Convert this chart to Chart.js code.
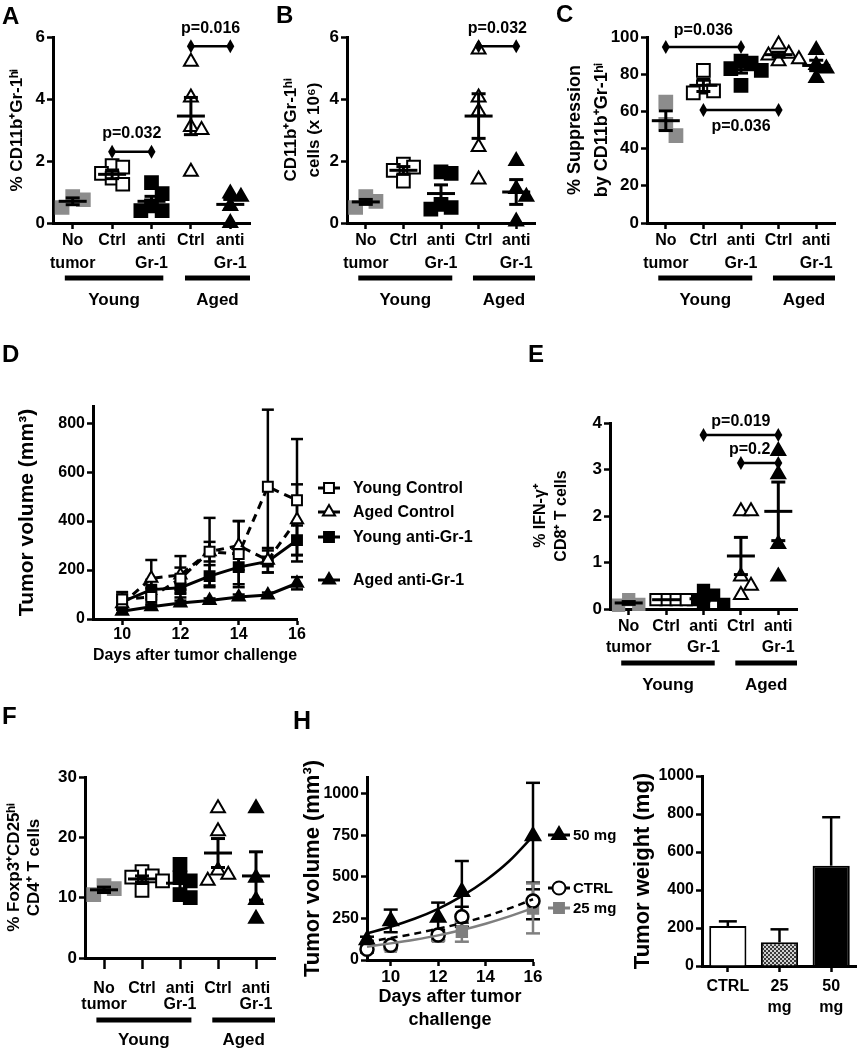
<!DOCTYPE html>
<html lang="en">
<head>
<meta charset="UTF-8">
<title>Gr-1 depletion in young and aged tumor-bearing mice</title>
<script src="https://cdn.jsdelivr.net/npm/chart.js@4.4.1/dist/chart.umd.min.js"></script>
<style>
  body { margin: 0; background: #fff; }
  #fig { position: relative; width: 857px; height: 1050px; overflow: hidden;
         font-family: "Liberation Sans", Arial, sans-serif; color: #000; }
  .box { position: absolute; }
  .tag { position: absolute; font-size: 24px; line-height: 24px; font-weight: bold; }
</style>
</head>
<body>
<div id="fig">
  <div class="box" style="left:0;top:0;width:280px;height:320px"><canvas id="chartA"></canvas></div>
  <div class="box" style="left:280px;top:0;width:280px;height:320px"><canvas id="chartB"></canvas></div>
  <div class="box" style="left:560px;top:0;width:297px;height:320px"><canvas id="chartC"></canvas></div>
  <div class="box" style="left:0;top:330px;width:520px;height:340px"><canvas id="chartD"></canvas></div>
  <div class="box" style="left:520px;top:330px;width:337px;height:370px"><canvas id="chartE"></canvas></div>
  <div class="box" style="left:0;top:700px;width:290px;height:350px"><canvas id="chartF"></canvas></div>
  <div class="box" style="left:290px;top:700px;width:340px;height:350px"><canvas id="chartH"></canvas></div>
  <div class="box" style="left:630px;top:700px;width:227px;height:350px"><canvas id="chartW"></canvas></div>

  <div class="tag" style="left:2px;top:4px">A</div>
  <div class="tag" style="left:276px;top:3px">B</div>
  <div class="tag" style="left:556px;top:2px">C</div>
  <div class="tag" style="left:2px;top:342px">D</div>
  <div class="tag" style="left:528px;top:342px">E</div>
  <div class="tag" style="left:2px;top:704px">F</div>
  <div class="tag" style="left:293px;top:708px;font-size:25px">H</div>
</div>

<script>
// ---------- data ----------
const catLabels = [['No', 'tumor'], 'Ctrl', ['anti', 'Gr-1'], 'Ctrl', ['anti', 'Gr-1']];
const ageNames = ['Young', 'Aged'];

// A: % CD11b+Gr-1hi
const aNoTumor = [0.85, 0.75, 0.5];
const aYoungCtrl = [1.85, 1.8, 1.6, 1.45, 1.25];
const aYoungAnti = [1.3, 0.95, 0.55, 0.4, 0.4];
const aAgedCtrl = [5.2, 4.05, 3.1, 3.0, 1.65];
const aAgedAnti = [0.95, 0.85, 0.55, 0.0];
const aMean = [0.7, 1.57, 0.7, 3.45, 0.6];
const aSem = [0.11, 0.14, 0.16, 0.6, 0.16];

// B: CD11b+Gr-1hi cells (x 10^6)
const bNoTumor = [0.85, 0.7, 0.5];
const bYoungCtrl = [1.9, 1.8, 1.7, 1.35];
const bYoungAnti = [1.65, 1.6, 0.6, 0.5, 0.45];
const bAgedCtrl = [5.6, 4.05, 3.6, 2.45, 1.4];
const bAgedAnti = [2.0, 1.1, 0.85, 0.05];
const bMean = [0.68, 1.7, 0.95, 3.45, 1.0];
const bSem = [0.08, 0.12, 0.28, 0.72, 0.4];

// C: % suppression
const cNoTumor = [65, 53, 47];
const cYoungCtrl = [82, 73, 71, 70];
const cYoungAnti = [87, 86, 83, 82, 74];
const cAgedCtrl = [96, 91, 90, 87, 88];
const cAgedAnti = [93, 85, 83, 78];
const cMean = [55, 74, 82.4, 90.5, 84.7];
const cSem = [5.3, 3.3, 1.8, 1.3, 2.8];

// E: % IFN-g+ CD8+ T cells
const eNoTumor = [0.2, 0.1, 0.08];
const eYoungCtrl = [0.2, 0.2, 0.2, 0.2];
const eYoungAnti = [0.4, 0.3, 0.2, 0.12, 0.1];
const eAgedCtrl = [2.1, 2.1, 0.7, 0.5, 0.3];
const eAgedAnti = [3.4, 2.9, 1.4, 0.7];
const eMean = [0.13, 0.2, 0.22, 1.14, 2.1];
const eSem = [0.03, 0, 0.05, 0.4, 0.63];

// F: % Foxp3+CD25hi CD4+ T cells
const fNoTumor = [12, 11.5, 10.5];
const fYoungCtrl = [14.3, 13.6, 13.4, 12.8, 11.2];
const fYoungAnti = [15.5, 13.3, 12.8, 10.5, 10];
const fAgedCtrl = [24.8, 21, 14.5, 13.8, 12.8];
const fAgedAnti = [24.8, 13.3, 9.6, 6.5];
const fMean = [11.3, 13.1, 12.4, 17.4, 13.6];
const fSem = [0.45, 0.5, 1.0, 2.4, 4.0];

// D: tumor volume over time
const dDays = [10, 11, 12, 13, 14, 15, 16];
const dDayTicks = [10, 12, 14, 16];
const dVolTicks = [0, 200, 400, 600, 800];
const dNames = ['Young Control', 'Aged Control', 'Young anti-Gr-1', 'Aged anti-Gr-1'];
const dYoungCtrl = [80, 90, 165, 275, 265, 540, 485];
const dYoungCtrlSem = [30, 35, 45, 138, 135, 315, 250];
const dAgedCtrl = [62, 166, 180, 275, 300, 240, 405];
const dAgedCtrlSem = [25, 75, 77, 40, 100, 50, 145];
const dYoungAnti = [70, 120, 128, 175, 212, 235, 322];
const dYoungAntiSem = [30, 40, 40, 45, 70, 45, 60];
const dAgedAnti = [32, 50, 65, 76, 90, 98, 146];
const dAgedAntiSem = [10, 10, 10, 8, 10, 10, 25];

// H: tumor volume with dose, fitted curves and tumor weight
const hDays = [9, 10, 12, 13, 16];
const hDayTicks = [10, 12, 14, 16];
const hVolTicks = [0, 250, 500, 750, 1000];
const hNames = ['50 mg', 'CTRL', '25 mg'];
const h50 = [120, 235, 255, 410, 745];
const h50Sem = [20, 68, 90, 185, 320];
const hCtrl = [65, 88, 150, 260, 355];
const hCtrlSem = [20, 20, 30, 60, 110];
const h25 = [75, 80, 140, 170, 310];
const h25Sem = [15, 20, 25, 60, 150];
const hFitDays = [9, 10, 11, 12, 13, 14, 15, 16];
const hFit50 = [160, 200, 248, 308, 384, 478, 595, 745];
const hFitCtrl = [110, 132, 158, 188, 222, 262, 310, 365];
const hFit25 = [80, 100, 122, 148, 180, 218, 262, 312];

const wLabels = ['CTRL', ['25', 'mg'], ['50', 'mg']];
const wTicks = [0, 200, 400, 600, 800, 1000];
const wMean = [210, 125, 528];
const wSem = [25, 68, 255];

// ---------- drawing helpers ----------
const FONT = '"Liberation Sans", Arial, sans-serif';
const GRAY = '#8c8c8c';
Chart.defaults.font.family = FONT;
Chart.defaults.color = '#000';

function bold(size, lh) {
  return { family: FONT, size: size, weight: 'bold', lineHeight: lh || 1.2 };
}

function line(ctx, x1, y1, x2, y2) {
  ctx.beginPath();
  ctx.moveTo(x1, y1);
  ctx.lineTo(x2, y2);
  ctx.stroke();
}

function marker(ctx, style, r, cx, cy) {
  ctx.beginPath();
  if (style === 'rect') {
    const s = r * Math.SQRT1_2;
    ctx.rect(cx - s, cy - s, 2 * s, 2 * s);
  } else if (style === 'triangle') {
    ctx.moveTo(cx, cy - r);
    ctx.lineTo(cx + r * 0.866, cy + r * 0.5);
    ctx.lineTo(cx - r * 0.866, cy + r * 0.5);
    ctx.closePath();
  } else {
    ctx.arc(cx, cy, r, 0, Math.PI * 2);
  }
  ctx.fill();
  ctx.stroke();
}

// spread points sideways when they would overlap (like a dot plot)
function swarm(vals, center, span) {
  const placed = [];
  const steps = [0, 0.27, -0.27, 0.54, -0.54, 0.81, -0.81];
  return vals.map(v => {
    let dx = 0;
    for (const s of steps) {
      const hit = placed.some(p => Math.abs(p.y - v) < span * 0.065 && Math.abs(p.x - s) < 0.25);
      if (!hit) { dx = s; break; }
    }
    placed.push({ x: dx, y: v });
    return { x: center + dx, y: v };
  });
}

const fixedTicks = list => s => { s.ticks = list.map(v => ({ value: v })); };

const groupMarks = [
  { pointStyle: 'rect', fill: GRAY, stroke: GRAY },
  { pointStyle: 'rect', fill: '#fff', stroke: '#000' },
  { pointStyle: 'rect', fill: '#000', stroke: '#000' },
  { pointStyle: 'triangle', fill: '#fff', stroke: '#000' },
  { pointStyle: 'triangle', fill: '#000', stroke: '#000' }
];
const ageSpans = [[0.8, 3.3], [3.85, 5.5]];

// mean +/- SEM, p-value brackets and Young / Aged bars
function dotMarks(c) {
  return {
    id: 'dotMarks',
    afterDatasetsDraw(chart) {
      const { ctx, chartArea } = chart;
      const x = chart.scales.x, y = chart.scales.y;
      ctx.save();
      ctx.strokeStyle = '#000';
      ctx.fillStyle = '#000';
      ctx.lineWidth = 3;
      c.means.forEach((m, i) => {
        const px = x.getPixelForValue(i + 1);
        const py = y.getPixelForValue(m);
        line(ctx, px - 14, py, px + 14, py);
        if (c.sems[i] > 0) {
          const hi = y.getPixelForValue(m + c.sems[i]);
          const lo = y.getPixelForValue(m - c.sems[i]);
          line(ctx, px, hi, px, lo);
          line(ctx, px - 7, hi, px + 7, hi);
          line(ctx, px - 7, lo, px + 7, lo);
        }
      });

      ctx.font = 'bold 16px ' + FONT;
      ctx.textAlign = 'center';
      ctx.textBaseline = 'middle';
      ctx.lineWidth = 2.5;
      (c.brackets || []).forEach(b => {
        const x1 = x.getPixelForValue(b.from);
        const x2 = x.getPixelForValue(b.to);
        const py = y.getPixelForValue(b.y);
        line(ctx, x1, py, x2, py);
        [x1, x2].forEach(px => {
          ctx.beginPath();
          ctx.moveTo(px, py - 7);
          ctx.lineTo(px + 4, py);
          ctx.lineTo(px, py + 7);
          ctx.lineTo(px - 4, py);
          ctx.closePath();
          ctx.fill();
        });
        ctx.fillText(b.text, (x1 + x2) / 2 + (b.shift || 0), py + (b.below ? c.textGap : -c.textGap));
      });

      ctx.font = 'bold 17px ' + FONT;
      ctx.lineWidth = 5;
      ageSpans.forEach((g, i) => {
        const x1 = x.getPixelForValue(g[0]);
        const x2 = x.getPixelForValue(g[1]);
        const by = chartArea.bottom + c.barGap;
        line(ctx, x1, by, x2, by);
        ctx.fillText(ageNames[i], (x1 + x2) / 2, by + c.nameGap);
      });
      ctx.restore();
    }
  };
}

function errorBars(sets, capHalf, upOnly, after) {
  const draw = chart => {
    const { ctx } = chart;
    const y = chart.scales.y;
    ctx.save();
    ctx.lineWidth = 2.5;
    ctx.setLineDash([]);
    sets.forEach(s => {
      const meta = chart.getDatasetMeta(s.ds);
      const ds = chart.data.datasets[s.ds];
      ctx.strokeStyle = s.color || '#000';
      meta.data.forEach((el, i) => {
        const raw = ds.data[i];
        const v = typeof raw === 'object' ? raw.y : raw;
        const hi = y.getPixelForValue(v + s.sem[i]);
        const lo = upOnly ? y.getPixelForValue(v) : y.getPixelForValue(Math.max(0, v - s.sem[i]));
        line(ctx, el.x, hi, el.x, lo);
        line(ctx, el.x - capHalf, hi, el.x + capHalf, hi);
        if (!upOnly) line(ctx, el.x - capHalf, lo, el.x + capHalf, lo);
      });
    });
    ctx.restore();
  };
  return after ? { id: 'errorBars', afterDatasetsDraw: draw } : { id: 'errorBars', beforeDatasetsDraw: draw };
}

function keyBox(items, k) {
  return {
    id: 'keyBox',
    afterDraw(chart) {
      const { ctx, chartArea } = chart;
      ctx.save();
      ctx.font = 'bold ' + k.size + 'px ' + FONT;
      ctx.textBaseline = 'middle';
      ctx.textAlign = 'left';
      items.forEach(it => {
        const ds = chart.data.datasets[it.ds];
        const x0 = chartArea.right + k.dx;
        ctx.strokeStyle = ds.pointBorderColor;
        ctx.lineWidth = 3;
        line(ctx, x0, it.y, x0 + k.len, it.y);
        ctx.fillStyle = ds.pointBackgroundColor;
        ctx.lineWidth = 2;
        marker(ctx, ds.pointStyle, ds.pointRadius, x0 + k.len / 2, it.y);
        ctx.fillStyle = '#000';
        ctx.fillText(ds.label, x0 + k.len + k.gap, it.y + 1);
      });
      ctx.restore();
    }
  };
}

const axisGrid = len => ({ drawOnChartArea: false, tickLength: len, tickWidth: 2.5, tickColor: '#000' });
const axisBorder = { color: '#000', width: 3 };
const plain = v => String(v);

function dotPlot(id, c) {
  const datasets = c.groups.map((vals, i) => {
    const m = groupMarks[i];
    return {
      data: swarm(vals, i + 1, c.yMax),
      pointStyle: m.pointStyle,
      pointRadius: m.pointStyle === 'rect' ? c.rectR : c.triR,
      backgroundColor: m.fill,
      borderColor: m.stroke,
      borderWidth: 2,
      clip: false
    };
  });
  return new Chart(document.getElementById(id), {
    type: 'scatter',
    data: { datasets },
    options: {
      responsive: true,
      maintainAspectRatio: false,
      animation: false,
      layout: { padding: { left: 0, top: c.top, right: c.right, bottom: 0 } },
      plugins: { legend: { display: false }, tooltip: { enabled: false } },
      scales: {
        x: {
          type: 'linear', min: 0.5, max: 5.5,
          afterBuildTicks: fixedTicks([1, 2, 3, 4, 5]),
          afterFit: s => { s.height = c.xH; },
          ticks: {
            autoSkip: false, maxRotation: 0, minRotation: 0, padding: c.tickPad,
            font: bold(16, c.labelLH), callback: v => catLabels[v - 1]
          },
          grid: axisGrid(c.tickLen),
          border: axisBorder
        },
        y: {
          min: 0, max: c.yMax,
          afterFit: s => { s.width = c.yW; },
          ticks: { stepSize: c.step, padding: 2, font: bold(17) },
          grid: axisGrid(6),
          border: axisBorder,
          title: {
            display: true, text: c.title,
            font: bold(c.titleSize, c.titleLH),
            padding: { top: c.titlePad, bottom: 0 }
          }
        }
      }
    },
    plugins: [dotMarks(c)]
  });
}

// ---------- A, B, C ----------
const topRow = { top: 37, xH: 97, tickLen: 6, tickPad: 0, labelLH: 1.44, barGap: 55, nameGap: 22, rectR: 9, triR: 8 };

dotPlot('chartA', Object.assign({}, topRow, {
  groups: [aNoTumor, aYoungCtrl, aYoungAnti, aAgedCtrl, aAgedAnti], means: aMean, sems: aSem,
  right: 30, yW: 53, yMax: 6, step: 2,
  title: '% CD11b⁺Gr-1ʰⁱ', titleSize: 17, titleLH: 1.2, titlePad: 7, textGap: 18,
  brackets: [
    { from: 2, to: 3, y: 2.3, text: 'p=0.032' },
    { from: 4, to: 5, y: 5.7, text: 'p=0.016' }
  ]
}));

dotPlot('chartB', Object.assign({}, topRow, {
  groups: [bNoTumor, bYoungCtrl, bYoungAnti, bAgedCtrl, bAgedAnti], means: bMean, sems: bSem,
  right: 25, yW: 67, yMax: 6, step: 2,
  title: ['CD11b⁺Gr-1ʰⁱ', 'cells (x 10⁶)'], titleSize: 17, titleLH: 1.35, titlePad: 0, textGap: 18,
  brackets: [{ from: 4, to: 5, y: 5.7, text: 'p=0.032' }]
}));

dotPlot('chartC', Object.assign({}, topRow, {
  groups: [cNoTumor, cYoungCtrl, cYoungAnti, cAgedCtrl, cAgedAnti], means: cMean, sems: cSem,
  right: 22, yW: 87, yMax: 100, step: 20,
  title: ['% Suppression', 'by CD11b⁺Gr-1ʰⁱ'], titleSize: 18, titleLH: 1.5, titlePad: 2, textGap: 16,
  brackets: [
    { from: 1, to: 3, y: 94.6, text: 'p=0.036' },
    { from: 2, to: 4, y: 60.7, text: 'p=0.036', below: true }
  ]
}));

// ---------- E ----------
dotPlot('chartE', {
  groups: [eNoTumor, eYoungCtrl, eYoungAnti, eAgedCtrl, eAgedAnti], means: eMean, sems: eSem,
  top: 93, right: 60, yW: 90, xH: 91, yMax: 4, step: 1,
  title: ['% IFN-γ⁺', 'CD8⁺ T cells'], titleSize: 16, titleLH: 1.3, titlePad: 10,
  tickLen: 6, tickPad: 1.5, labelLH: 1.3, barGap: 54, nameGap: 22, textGap: 13, rectR: 8, triR: 8,
  brackets: [
    { from: 3, to: 5, y: 3.74, text: 'p=0.019' },
    { from: 4, to: 5, y: 3.14, text: 'p=0.2', shift: -10 }
  ]
});

// ---------- F ----------
dotPlot('chartF', {
  groups: [fNoTumor, fYoungCtrl, fYoungAnti, fAgedCtrl, fAgedAnti], means: fMean, sems: fSem,
  top: 77, right: 15, yW: 85, xH: 92, yMax: 30, step: 10,
  title: ['% Foxp3⁺CD25ʰⁱ', 'CD4⁺ T cells'], titleSize: 17, titleLH: 1.2, titlePad: 4,
  tickLen: 11, tickPad: 12, labelLH: 1.0, barGap: 62, nameGap: 20, textGap: 16, rectR: 9, triR: 8,
  brackets: []
});

// ---------- D ----------
function pts(xs, ys) { return xs.map((d, i) => ({ x: d, y: ys[i] })); }

const dValues = [dYoungCtrl, dAgedCtrl, dYoungAnti, dAgedAnti];
const dSems = [dYoungCtrlSem, dAgedCtrlSem, dYoungAntiSem, dAgedAntiSem];
const dLook = [
  { dash: [8, 6], pointStyle: 'rect', fill: '#fff' },
  { dash: [8, 6], pointStyle: 'triangle', fill: '#fff' },
  { dash: [], pointStyle: 'rect', fill: '#000' },
  { dash: [], pointStyle: 'triangle', fill: '#000' }
];

new Chart(document.getElementById('chartD'), {
  type: 'line',
  data: {
    datasets: dValues.map((v, i) => ({
      label: dNames[i],
      data: pts(dDays, v),
      borderColor: '#000', borderWidth: 3, borderDash: dLook[i].dash,
      pointStyle: dLook[i].pointStyle, pointRadius: 7,
      pointBackgroundColor: dLook[i].fill, pointBorderColor: '#000', pointBorderWidth: 2,
      tension: 0, clip: false
    }))
  },
  options: {
    responsive: true, maintainAspectRatio: false, animation: false,
    layout: { padding: { left: 0, top: 76, right: 223, bottom: 0 } },
    plugins: { legend: { display: false }, tooltip: { enabled: false } },
    scales: {
      x: {
        type: 'linear', min: 9, max: 16,
        afterBuildTicks: fixedTicks(dDayTicks),
        afterFit: s => { s.height = 51; },
        ticks: { padding: 0, font: bold(16), maxRotation: 0, callback: plain },
        grid: axisGrid(6), border: axisBorder,
        title: { display: true, text: 'Days after tumor challenge', font: bold(16), padding: { top: 0, bottom: 5 } }
      },
      y: {
        min: 0, max: 870,
        afterBuildTicks: fixedTicks(dVolTicks),
        afterFit: s => { s.width = 93; },
        ticks: { padding: 2, font: bold(16), callback: plain },
        grid: axisGrid(6), border: axisBorder,
        title: { display: true, text: 'Tumor volume (mm³)', font: bold(21), padding: { top: 15, bottom: 0 } }
      }
    }
  },
  plugins: [
    errorBars(dSems.map((s, i) => ({ ds: i, sem: s })), 6, false, false),
    keyBox([{ ds: 0, y: 158 }, { ds: 1, y: 182 }, { ds: 2, y: 207 }, { ds: 3, y: 250 }],
           { dx: 21, len: 22, gap: 13, size: 16 })
  ]
});

// ---------- H: volume ----------
const hFits = [hFit50, hFitCtrl, hFit25];
const hMeans = [h50, hCtrl, h25];
const hSems = [h50Sem, hCtrlSem, h25Sem];
const hLook = [
  { color: '#000', dash: [], pointStyle: 'triangle', fill: '#000', r: 8 },
  { color: '#000', dash: [7, 5], pointStyle: 'circle', fill: '#fff', r: 6.5 },
  { color: '#7f7f7f', dash: [], pointStyle: 'rect', fill: '#7f7f7f', r: 7 }
];

const hDatasets = hFits.map((v, i) => ({
  label: hNames[i] + ' fit',
  data: pts(hFitDays, v),
  borderColor: hLook[i].color, borderWidth: 2.5, borderDash: hLook[i].dash,
  pointRadius: 0, cubicInterpolationMode: 'monotone', clip: false
})).concat(hMeans.map((v, i) => ({
  label: hNames[i],
  data: pts(hDays, v),
  showLine: false,
  pointStyle: hLook[i].pointStyle, pointRadius: hLook[i].r,
  pointBackgroundColor: hLook[i].fill, pointBorderColor: hLook[i].color, pointBorderWidth: 2.5,
  clip: false
})));

new Chart(document.getElementById('chartH'), {
  type: 'line',
  data: { datasets: hDatasets },
  options: {
    responsive: true, maintainAspectRatio: false, animation: false,
    layout: { padding: { left: 0, top: 77, right: 97, bottom: 0 } },
    plugins: { legend: { display: false }, tooltip: { enabled: false } },
    scales: {
      x: {
        type: 'linear', min: 9, max: 16,
        afterBuildTicks: fixedTicks(hDayTicks),
        afterFit: s => { s.height = 90; },
        ticks: { padding: 1, font: bold(17), maxRotation: 0, callback: plain },
        grid: axisGrid(6), border: axisBorder,
        title: { display: true, text: ['Days after tumor', 'challenge'], font: bold(18, 1.25), padding: { top: 0, bottom: 19 } }
      },
      y: {
        min: 0, max: 1100,
        afterBuildTicks: fixedTicks(hVolTicks),
        afterFit: s => { s.width = 77; },
        ticks: { padding: 2, font: bold(16), callback: plain },
        grid: axisGrid(6), border: axisBorder,
        title: { display: true, text: 'Tumor volume (mm³)', font: bold(22), padding: { top: 10, bottom: 0 } }
      }
    }
  },
  plugins: [
    errorBars(hSems.map((s, i) => ({ ds: i + 3, sem: s, color: hLook[i].color })), 7, false, false),
    keyBox([{ ds: 3, y: 135 }, { ds: 4, y: 188 }, { ds: 5, y: 208 }],
           { dx: 15, len: 22, gap: 3, size: 15 })
  ]
});

// ---------- H: weight ----------
const wCanvas = document.getElementById('chartW');
function checker(ctx) {
  const t = document.createElement('canvas');
  t.width = 4; t.height = 4;
  const g = t.getContext('2d');
  g.fillStyle = '#d0d0d0';
  g.fillRect(0, 0, 4, 4);
  g.fillStyle = '#3a3a3a';
  g.fillRect(0, 0, 2, 2);
  g.fillRect(2, 2, 2, 2);
  return ctx.createPattern(t, 'repeat');
}

new Chart(wCanvas, {
  type: 'bar',
  data: {
    labels: wLabels,
    datasets: [{
      data: wMean,
      backgroundColor: ['#fff', checker(wCanvas.getContext('2d')), '#000'],
      borderColor: '#000', borderWidth: 2,
      barPercentage: 0.72, categoryPercentage: 1
    }]
  },
  options: {
    responsive: true, maintainAspectRatio: false, animation: false,
    layout: { padding: { left: 0, top: 76, right: 0, bottom: 0 } },
    plugins: { legend: { display: false }, tooltip: { enabled: false } },
    scales: {
      x: {
        afterFit: s => { s.height = 84; },
        ticks: { padding: 4, font: bold(16, 1.3), maxRotation: 0, autoSkip: false },
        grid: Object.assign(axisGrid(6), { offset: false }),
        border: axisBorder
      },
      y: {
        min: 0, max: 1000,
        afterBuildTicks: fixedTicks(wTicks),
        afterFit: s => { s.width = 72; },
        ticks: { padding: 2, font: bold(16), callback: plain },
        grid: axisGrid(6), border: axisBorder,
        title: { display: true, text: 'Tumor weight (mg)', font: bold(22), padding: { top: 0, bottom: 0 } }
      }
    }
  },
  plugins: [errorBars([{ ds: 0, sem: wSem }], 9, true, true)]
});
</script>
</body>
</html>
